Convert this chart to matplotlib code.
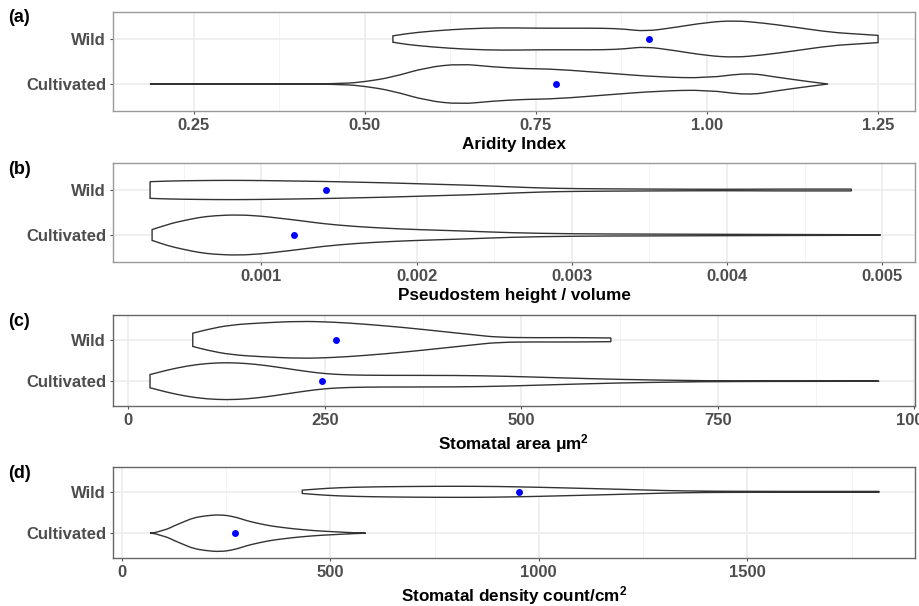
import matplotlib
matplotlib.use("Agg")
import matplotlib.pyplot as plt
import numpy as np
from matplotlib.path import Path
from matplotlib.patches import PathPatch

plt.rcParams["font.family"] = ["Liberation Sans", "DejaVu Sans"]
plt.rcParams["font.weight"] = "bold"
plt.rcParams["mathtext.default"] = "regular"

groups = ["Cultivated", "Wild"]

# (a) Aridity index: violin outline knots (value, half width) and group means
arid_wild_x = [0.541, 0.56, 0.60, 0.65, 0.70, 0.75, 0.80, 0.85, 0.88, 0.91, 0.95, 1.00, 1.04, 1.08, 1.13, 1.18, 1.22, 1.25]
arid_wild_w = [0.07, 0.12, 0.18, 0.23, 0.25, 0.24, 0.24, 0.24, 0.22, 0.17, 0.25, 0.37, 0.41, 0.36, 0.26, 0.15, 0.11, 0.08]
arid_cult_x = [0.186, 0.30, 0.40, 0.47, 0.50, 0.54, 0.59, 0.64, 0.686, 0.735, 0.78, 0.855, 0.93, 1.00, 1.06, 1.10, 1.15, 1.177]
arid_cult_w = [0.0, 0.0, 0.0, 0.01, 0.05, 0.15, 0.37, 0.45, 0.38, 0.34, 0.33, 0.24, 0.155, 0.13, 0.25, 0.155, 0.05, 0.0]
arid_means = [0.78, 0.915]

# (b) Pseudostem height / volume
pseudo_wild_x = [0.000284, 0.0004, 0.0006, 0.0008, 0.0010, 0.0012, 0.0014, 0.0016, 0.0018, 0.0020, 0.0022, 0.0024, 0.0026, 0.0028, 0.0030, 0.0035, 0.0040, 0.0043, 0.0046, 0.0048]
pseudo_wild_w = [0.185, 0.20, 0.21, 0.215, 0.21, 0.20, 0.19, 0.175, 0.16, 0.14, 0.12, 0.10, 0.07, 0.045, 0.03, 0.02, 0.015, 0.02, 0.02, 0.02]
pseudo_cult_x = [0.000297, 0.0004, 0.0005, 0.0006, 0.0007, 0.00085, 0.0010, 0.0011, 0.00125, 0.0014, 0.0016, 0.0018, 0.0020, 0.0023, 0.0026, 0.0030, 0.0035, 0.0040, 0.0045, 0.004987]
pseudo_cult_w = [0.12, 0.24, 0.32, 0.39, 0.43, 0.45, 0.42, 0.38, 0.32, 0.25, 0.19, 0.15, 0.12, 0.09, 0.05, 0.025, 0.02, 0.015, 0.01, 0.005]
pseudo_means = [0.001208, 0.001417]

# (c) Stomatal area
area_wild_x = [82, 100, 130, 170, 218, 260, 300, 350, 400, 440, 470, 520, 560, 614]
area_wild_w = [0.16, 0.25, 0.36, 0.41, 0.45, 0.43, 0.38, 0.30, 0.20, 0.12, 0.06, 0.05, 0.055, 0.045]
area_cult_x = [27.6, 40, 50, 75, 100, 125, 150, 175, 200, 225, 250, 280, 320, 420, 480, 550, 630, 700, 760, 955]
area_cult_w = [0.16, 0.22, 0.27, 0.37, 0.43, 0.45, 0.43, 0.38, 0.31, 0.24, 0.18, 0.15, 0.14, 0.14, 0.12, 0.08, 0.04, 0.02, 0.006, 0.002]
area_means = [246.8, 263.8]

# (d) Stomatal density
dens_wild_x = [433, 470, 520, 600, 700, 800, 900, 1000, 1100, 1200, 1300, 1400, 1500, 1600, 1700, 1816]
dens_wild_w = [0.04, 0.07, 0.10, 0.12, 0.13, 0.135, 0.13, 0.11, 0.085, 0.06, 0.03, 0.015, 0.012, 0.01, 0.01, 0.01]
dens_cult_x = [68, 80, 92, 110, 124, 150, 172, 200, 236, 270, 300, 330, 360, 400, 428, 470, 508, 557, 585]
dens_cult_w = [0.0, 0.01, 0.05, 0.10, 0.17, 0.28, 0.37, 0.42, 0.45, 0.40, 0.30, 0.23, 0.17, 0.12, 0.09, 0.055, 0.035, 0.01, 0.0]
dens_means = [271, 953]

panels = [
    dict(tag="(a)", label="Aridity Index",
         wild=(arid_wild_x, arid_wild_w), cult=(arid_cult_x, arid_cult_w), means=arid_means,
         xlim=(0.132, 1.304), ticks=[0.25, 0.50, 0.75, 1.00, 1.25],
         ticklabels=["0.25", "0.50", "0.75", "1.00", "1.25"],
         minor=[0.375, 0.625, 0.875, 1.125], rect=(12, 111), border="#999999"),
    dict(tag="(b)", label="Pseudostem height / volume",
         wild=(pseudo_wild_x, pseudo_wild_w), cult=(pseudo_cult_x, pseudo_cult_w), means=pseudo_means,
         xlim=(0.0000452, 0.00521), ticks=[0.001, 0.002, 0.003, 0.004, 0.005],
         ticklabels=["0.001", "0.002", "0.003", "0.004", "0.005"],
         minor=[0.0005, 0.0015, 0.0025, 0.0035, 0.0045], rect=(163, 262), border="#999999"),
    dict(tag="(c)", label="Stomatal area \u03bcm$^2$",
         wild=(area_wild_x, area_wild_w), cult=(area_cult_x, area_cult_w), means=area_means,
         xlim=(-19.5, 1001), ticks=[0, 250, 500, 750, 1000],
         ticklabels=["0", "250", "500", "750", "1000"],
         minor=[125, 375, 625, 875], rect=(315, 406), border="#666666"),
    dict(tag="(d)", label="Stomatal density count/cm$^2$",
         wild=(dens_wild_x, dens_wild_w), cult=(dens_cult_x, dens_cult_w), means=dens_means,
         xlim=(-20.8, 1902), ticks=[0, 500, 1000, 1500],
         ticklabels=["0", "500", "1000", "1500"],
         minor=[250, 750, 1250, 1750], rect=(467, 558), border="#666666"),
]


def smooth_path(xs, ws, y0):
    top = [(x, y0 + w) for x, w in zip(xs, ws)]
    bot = [(x, y0 - w) for x, w in zip(xs, ws)][::-1]
    verts, codes = [top[0]], [Path.MOVETO]
    for side in (top, bot):
        if side is bot:
            verts.append(side[0])
            codes.append(Path.LINETO)
        for i in range(1, len(side) - 1):
            nxt = side[i + 1]
            mid = ((side[i][0] + nxt[0]) / 2, (side[i][1] + nxt[1]) / 2)
            verts += [side[i], mid]
            codes += [Path.CURVE3, Path.CURVE3]
        verts.append(side[-1])
        codes.append(Path.LINETO)
    verts.append(top[0])
    codes.append(Path.CLOSEPOLY)
    return Path(verts, codes)


W, H = 920, 606
fig = plt.figure(figsize=(W / 100, H / 100), dpi=100)
tick_grey = "#4D4D4D"

for p in panels:
    top_px, bot_px = p["rect"]
    ax = fig.add_axes([113 / W, 1 - bot_px / H, 802 / W, (bot_px - top_px) / H])
    ax.set_xlim(*p["xlim"])
    ax.set_ylim(0.4, 2.6)
    for xm in p["minor"]:
        ax.axvline(xm, color="#F2F2F2", lw=0.6, zorder=0)
    for xt in p["ticks"]:
        ax.axvline(xt, color="#EBEBEB", lw=1.1, zorder=0)
    for yt in (1, 2):
        ax.axhline(yt, color="#EBEBEB", lw=1.1, zorder=0)

    for yi, (xs, ws) in zip((1, 2), (p["cult"], p["wild"])):
        ax.add_patch(PathPatch(smooth_path(xs, ws, yi), facecolor="white",
                               edgecolor="#333333", lw=1.0, zorder=2))
    ax.plot(p["means"], [1, 2], "o", color="#0000FF", ms=5, mec="none", zorder=3)

    ax.set_xticks(p["ticks"])
    ax.set_xticklabels(p["ticklabels"])
    ax.set_yticks([1, 2])
    ax.set_yticklabels(groups)
    ax.tick_params(axis="both", length=2.5, width=0.8, color="#555555", pad=2.5,
                   labelsize=12, labelcolor=tick_grey)
    for lab in ax.get_xticklabels() + ax.get_yticklabels():
        lab.set_fontweight("bold")
    ax.set_xlabel(p["label"], fontsize=12.3, fontweight="bold", color="black", labelpad=3)
    for s in ax.spines.values():
        s.set_color(p["border"])
        s.set_linewidth(1.0)
    fig.text(8 / W, 1 - (top_px + 6) / H, p["tag"], fontsize=13, fontweight="bold",
             ha="left", va="center")

fig.savefig("out.png", dpi=100)
